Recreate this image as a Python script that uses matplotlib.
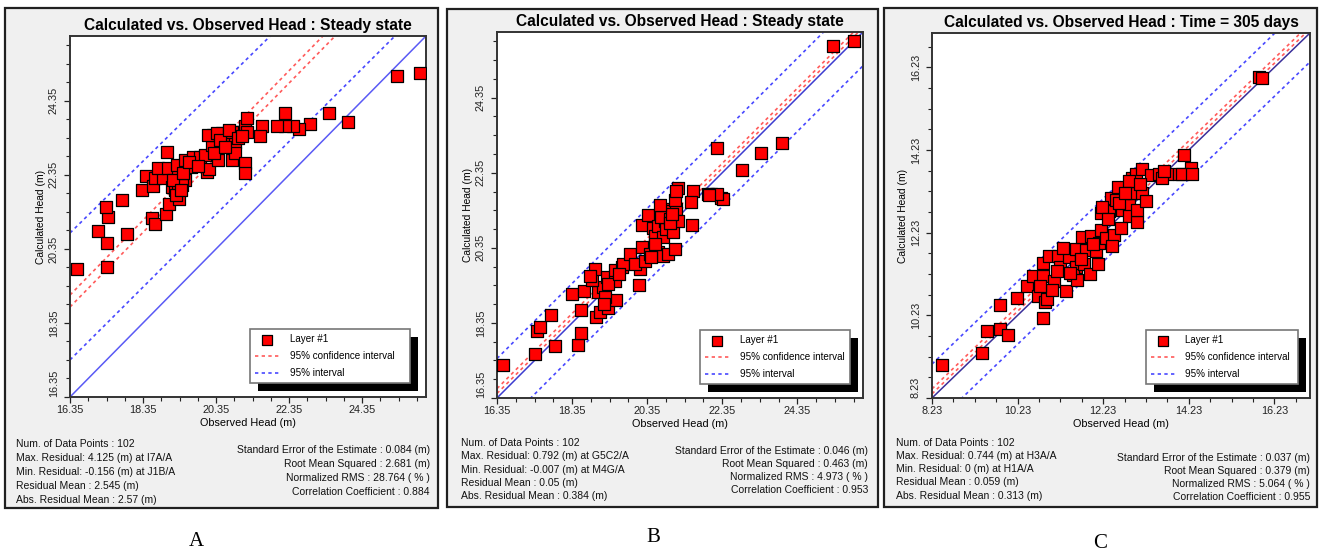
import numpy as np
import matplotlib
matplotlib.use("Agg")
import matplotlib.pyplot as plt
from matplotlib.patches import Rectangle
from matplotlib.ticker import FixedLocator

plt.rcParams['font.family'] = ['Liberation Sans', 'DejaVu Sans']

# ---- panel A : steady state, before calibration ----
obs_a = [16.53, 17.37, 17.13, 17.37, 17.40, 17.33, 17.90, 17.78, 18.33, 18.60,
         18.68, 18.98, 19.07, 19.34, 18.44, 18.63, 18.68, 18.91, 18.77, 19.00,
         19.04, 19.14, 19.23, 19.32, 19.30, 19.50, 19.27, 19.41, 19.50, 19.67,
         19.73, 19.91, 20.10, 20.17, 20.05, 20.23, 20.28, 20.41, 20.51, 20.58,
         20.67, 20.78, 20.87, 20.87, 20.96, 21.10, 21.14, 21.19, 21.13, 21.13,
         20.14, 20.37, 20.78, 21.19, 25.30, 25.94, 22.24, 23.43, 23.97, 22.93,
         22.63, 22.45, 22.24, 22.01, 21.60, 21.56, 19.18, 19.45, 19.60, 19.85,
         20.30, 20.45, 20.70, 20.95, 21.05, 19.25, 19.38, 20.60]
calc_a = [19.80, 19.87, 20.82, 20.50, 21.20, 21.49, 20.75, 21.67, 21.93, 21.18,
          21.02, 21.29, 21.56, 21.70, 22.32, 22.05, 22.26, 22.26, 22.53, 22.96,
          22.53, 22.03, 21.94, 22.35, 22.13, 22.21, 22.62, 22.08, 22.76, 22.57,
          22.84, 22.84, 22.44, 22.51, 22.89, 23.16, 23.43, 22.76, 23.48, 23.25,
          23.43, 22.76, 23.25, 22.94, 23.52, 23.52, 23.66, 23.88, 22.68, 22.41,
          23.43, 23.48, 23.52, 23.52, 25.03, 25.10, 24.02, 24.03, 23.79, 23.72,
          23.59, 23.66, 23.66, 23.66, 23.67, 23.41, 22.20, 22.40, 22.70, 22.60,
          22.95, 23.30, 23.55, 23.35, 23.40, 21.80, 21.95, 23.10]

# ---- panel B : steady state, calibrated ----
obs_b = [16.52, 17.36, 17.89, 18.51, 18.58, 17.41, 17.49, 17.79, 18.60, 18.34,
         18.66, 19.00, 19.09, 19.31, 19.51, 19.04, 19.18, 19.22, 18.87, 18.96,
         18.82, 19.27, 19.49, 19.49, 19.67, 19.71, 19.89, 20.13, 20.15, 20.02,
         20.20, 20.29, 20.42, 20.64, 20.77, 20.91, 21.08, 20.20, 20.37, 20.51,
         20.55, 20.64, 20.77, 20.82, 20.86, 21.04, 20.82, 20.91, 21.13, 21.08,
         21.16, 21.17, 21.13, 21.57, 21.51, 21.55, 21.97, 22.04, 22.33, 20.73,
         20.95, 25.29, 25.87, 22.21, 23.39, 23.93, 22.88, 22.37, 22.22, 22.00,
         19.30, 19.60, 20.55, 20.95, 21.00, 20.70, 19.20, 20.45]
calc_b = [17.23, 17.51, 17.74, 17.77, 18.07, 18.13, 18.24, 18.55, 18.70, 19.13,
          19.21, 18.51, 18.64, 18.75, 18.97, 19.17, 19.30, 19.04, 19.50, 19.79,
          19.61, 19.57, 19.48, 19.75, 19.83, 19.92, 20.19, 19.35, 19.79, 19.92,
          20.36, 20.01, 20.19, 20.23, 20.14, 20.19, 20.32, 20.96, 21.22, 20.89,
          20.67, 20.94, 20.63, 21.07, 20.85, 20.76, 21.38, 21.34, 21.38, 21.62,
          21.07, 21.95, 21.87, 21.87, 21.56, 20.97, 21.78, 21.78, 21.67, 21.16,
          21.12, 25.74, 25.86, 23.02, 22.87, 23.13, 22.42, 21.66, 21.78, 21.76,
          19.40, 19.65, 20.45, 21.00, 21.25, 21.50, 18.85, 20.10]

# ---- panel C : transient, time = 305 days ----
obs_c = [8.46, 9.40, 9.52, 9.81, 10.00, 9.83, 10.21, 10.82, 10.45, 10.59,
         10.70, 10.86, 10.91, 10.82, 10.82, 10.97, 11.17, 11.21, 11.09, 11.04,
         11.36, 11.42, 11.60, 11.60, 11.53, 11.62, 11.79, 11.93, 12.10, 11.83,
         12.06, 11.73, 11.94, 12.18, 12.14, 12.29, 12.49, 12.43, 12.18, 12.37,
         12.41, 12.53, 12.58, 12.68, 12.83, 12.83, 13.03, 13.03, 12.93, 13.14,
         13.22, 12.91, 13.00, 13.14, 13.34, 13.53, 13.73, 13.61, 14.00, 12.64,
         12.83, 12.21, 15.86, 15.94, 14.11, 14.27, 14.07, 14.31, 13.65, 10.75,
         11.15, 11.45, 11.70, 12.00, 12.35, 12.60, 12.75, 13.10, 11.30]
calc_c = [9.03, 9.33, 9.84, 9.90, 9.76, 10.47, 10.65, 10.16, 10.93, 11.19,
          10.69, 10.56, 10.62, 11.17, 11.50, 11.66, 11.66, 11.41, 11.07, 10.85,
          10.81, 11.64, 11.41, 11.83, 11.21, 11.09, 11.47, 11.23, 11.47, 11.82,
          11.79, 12.13, 12.14, 12.30, 11.98, 12.10, 12.18, 11.90, 12.71, 12.75,
          13.07, 13.03, 13.34, 12.77, 12.91, 12.63, 12.48, 12.79, 13.19, 13.19,
          12.99, 13.56, 13.64, 13.78, 13.62, 13.66, 13.64, 13.56, 13.64, 12.34,
          13.47, 12.85, 16.00, 15.97, 14.12, 13.80, 13.64, 13.64, 13.72, 10.95,
          11.30, 11.25, 11.60, 11.95, 12.55, 12.95, 13.20, 13.40, 11.85]

# lines as (slope, intercept)
conf_a = [(1.010, 2.59), (1.008, 2.30)]
pred_a = [(0.970, 4.92), (0.983, 1.28)]
conf_b = [(1.0, 0.25), (1.0, 0.12)]
pred_b = [(1.0, 1.05), (1.0, -0.90)]
conf_c = [(1.0, 0.22), (1.0, 0.10)]
pred_c = [(1.0, 0.82), (1.0, -0.70)]

ticks_ab = [16.35, 18.35, 20.35, 22.35, 24.35]
ticks_c = [8.23, 10.23, 12.23, 14.23, 16.23]
lim_ab = (16.35, 26.10)
lim_c = (8.23, 17.06)

titles = ["Calculated vs. Observed Head : Steady state",
          "Calculated vs. Observed Head : Steady state",
          "Calculated vs. Observed Head : Time = 305 days"]

left_stats = [
    ["Num. of Data Points : 102", "Max. Residual: 4.125 (m) at I7A/A",
     "Min. Residual: -0.156 (m) at J1B/A", "Residual Mean : 2.545 (m)",
     "Abs. Residual Mean : 2.57 (m)"],
    ["Num. of Data Points : 102", "Max. Residual: 0.792 (m) at G5C2/A",
     "Min. Residual: -0.007 (m) at M4G/A", "Residual Mean : 0.05 (m)",
     "Abs. Residual Mean : 0.384 (m)"],
    ["Num. of Data Points : 102", "Max. Residual: 0.744 (m) at H3A/A",
     "Min. Residual: 0 (m) at H1A/A", "Residual Mean : 0.059 (m)",
     "Abs. Residual Mean : 0.313 (m)"],
]
right_stats = [
    ["Standard Error of the Estimate : 0.084 (m)", "Root Mean Squared : 2.681 (m)",
     "Normalized RMS : 28.764 ( % )", "Correlation Coefficient : 0.884"],
    ["Standard Error of the Estimate : 0.046 (m)", "Root Mean Squared : 0.463 (m)",
     "Normalized RMS : 4.973 ( % )", "Correlation Coefficient : 0.953"],
    ["Standard Error of the Estimate : 0.037 (m)", "Root Mean Squared : 0.379 (m)",
     "Normalized RMS : 5.064 ( % )", "Correlation Coefficient : 0.955"],
]
letters = ["A", "B", "C"]

W, H = 1320, 554
fig = plt.figure(figsize=(W / 100, H / 100), dpi=100)
fig.patch.set_facecolor("white")


def fx(px):
    return px / W


def fy(py):
    return 1 - py / H


# layout in pixels: frame box, axes box, stats anchors, letter position
panels = [
    dict(frame=(5, 8, 438, 508), axes=(70, 36, 426, 397),
         left=(16, [444, 458, 472, 486, 500]), right=(430, [450, 464, 478, 492]),
         letter=(196, 541), leg=(0.506, 0.039, 0.449), solid="#5a5af5"),
    dict(frame=(447, 9, 878, 507), axes=(497, 32, 863, 398),
         left=(461, [443, 456, 470, 483, 496]), right=(868, [451, 464, 477, 490]),
         letter=(653, 538), leg=(0.555, 0.038, 0.409), solid="#3c3cd0"),
    dict(frame=(884, 8, 1317, 507), axes=(932, 33, 1310, 398),
         left=(896, [443, 456, 469, 482, 496]), right=(1310, [458, 471, 484, 497]),
         letter=(1100, 543), leg=(0.566, 0.038, 0.402), solid="#3a2f9a"),
]

data = [(obs_a, calc_a, conf_a, pred_a, ticks_ab, lim_ab),
        (obs_b, calc_b, conf_b, pred_b, ticks_ab, lim_ab),
        (obs_c, calc_c, conf_c, pred_c, ticks_c, lim_c)]

legends = []
for i, (p, (obs, calc, conf, pred, ticks, lim)) in enumerate(zip(panels, data)):
    x0, y0, x1, y1 = p["frame"]
    fig.add_artist(Rectangle((fx(x0), fy(y1)), fx(x1 - x0), (y1 - y0) / H,
                             transform=fig.transFigure, facecolor="#f0f0f0",
                             edgecolor="#202020", lw=1.6, zorder=-1))
    a0, b0, a1, b1 = p["axes"]
    ax = fig.add_axes([fx(a0), fy(b1), fx(a1 - a0), (b1 - b0) / H])
    ax.set_facecolor("white")

    xs = np.array(lim)
    ax.plot(xs, xs, color=p["solid"], lw=1.1, zorder=2)
    for k, (m, c) in enumerate(conf):
        ax.plot(xs, m * xs + c, color="#ff5a5a", lw=1.2, ls=(0, (2, 2)), zorder=2,
                label="95% confidence interval" if k == 0 else None)
    for k, (m, c) in enumerate(pred):
        ax.plot(xs, m * xs + c, color="#4848ff", lw=1.2, ls=(0, (2, 2)), zorder=2,
                label="95% interval" if k == 0 else None)
    ax.scatter(obs, calc, marker="s", s=68, facecolor="#ff0000",
               edgecolor="black", linewidths=0.9, zorder=3, label="Layer #1")

    ax.set_xlim(lim)
    ax.set_ylim(lim)
    minor = np.arange(lim[0], lim[1], 0.5)
    for axis in (ax.xaxis, ax.yaxis):
        axis.set_major_locator(FixedLocator(ticks))
        axis.set_minor_locator(FixedLocator(minor))
    ax.set_xticklabels(["%.2f" % t for t in ticks])
    ylabels = ax.set_yticklabels(["%.2f" % t for t in ticks], rotation=90, va="center")
    ylabels[0].set_va("bottom")
    ax.tick_params(which="both", direction="out", labelsize=7.8, colors="#222222",
                   top=False, right=False)
    ax.tick_params(which="major", length=4, width=0.9)
    ax.tick_params(which="minor", length=3, width=0.8)
    ax.tick_params(axis="x", pad=2)
    ax.tick_params(axis="y", pad=4)
    for s in ax.spines.values():
        s.set_color("#333333")
        s.set_linewidth(1.4)

    ax.set_xlabel("Observed Head (m)", fontsize=7.8, labelpad=2)
    ax.set_ylabel("Calculated Head (m)", fontsize=7.4, labelpad=2)
    ax.set_title(titles[i], fontsize=11.2, fontweight="bold", pad=4)

    lx, lb, lw = p["leg"]
    handles, labels = ax.get_legend_handles_labels()
    order = [labels.index("Layer #1"), labels.index("95% confidence interval"),
             labels.index("95% interval")]
    leg = ax.legend([handles[j] for j in order], [labels[j] for j in order],
                    loc="lower left", bbox_to_anchor=(lx, lb, lw, 0.1),
                    mode="expand", fontsize=7.1, frameon=True, fancybox=False,
                    edgecolor="#777777", framealpha=1, borderpad=0.5,
                    labelspacing=0.7, handlelength=2.4, handletextpad=1.1,
                    borderaxespad=0, markerscale=0.95)
    leg.get_frame().set_linewidth(1.2)
    leg.set_zorder(6)
    legends.append((ax, leg))

    sx, sys_ = p["left"]
    for t, yy in zip(left_stats[i], sys_):
        fig.text(fx(sx), fy(yy), t, fontsize=7.5, ha="left", va="center",
                 color="#111111")
    rx, rys = p["right"]
    for t, yy in zip(right_stats[i], rys):
        fig.text(fx(rx), fy(yy), t, fontsize=7.5, ha="right", va="center",
                 color="#111111")
    lxp, lyp = p["letter"]
    fig.text(fx(lxp), fy(lyp), letters[i], fontsize=15, ha="center", va="center",
             family="Liberation Serif")

# black drop shadow behind each legend
fig.canvas.draw()
for ax, leg in legends:
    bb = leg.get_window_extent()
    shadow = Rectangle(((bb.x0 + 8) / W, (bb.y0 - 8) / H), bb.width / W, bb.height / H,
                       transform=fig.transFigure, facecolor="black", edgecolor="none",
                       zorder=5.5, clip_on=False)
    ax.add_artist(shadow)

fig.savefig("out.png", dpi=100, facecolor="white")
